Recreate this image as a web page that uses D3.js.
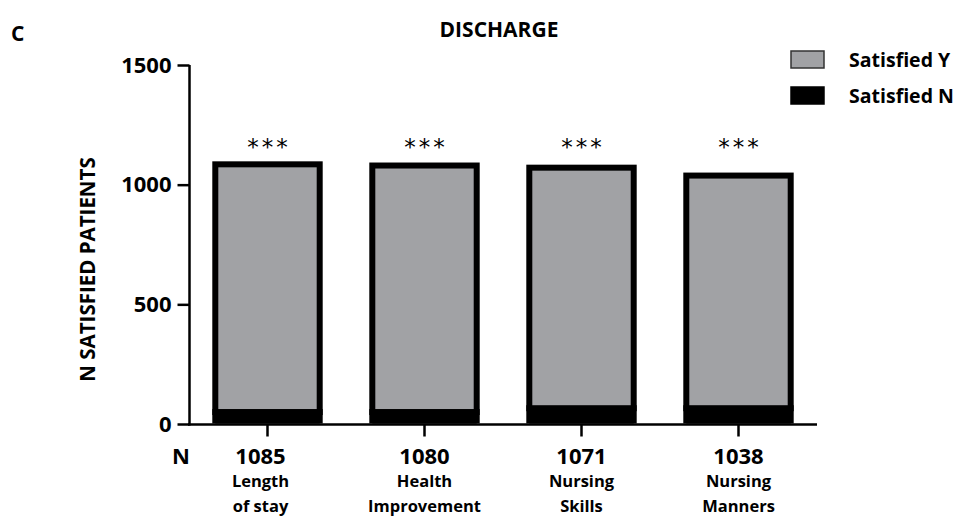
<!DOCTYPE html>
<html>
<head>
<meta charset="utf-8">
<script src="https://cdn.jsdelivr.net/npm/d3@7"></script>
<style>
  html, body { margin: 0; padding: 0; background: #fff; }
  svg { display: block; font-family: "Open Sans", Lato, sans-serif; }
</style>
</head>
<body>
<svg id="chart" width="958" height="518"></svg>
<script>
// Discharge satisfaction by item: stacked counts of satisfied / not satisfied patients
const categories = ["Length of stay", "Health Improvement", "Nursing Skills", "Nursing Manners"];
const categoryLines = [["Length", "of stay"], ["Health", "Improvement"], ["Nursing", "Skills"], ["Nursing", "Manners"]];
const totalN = [1085, 1080, 1071, 1038];
const satisfiedYes = [1035, 1030, 1005, 972];
const satisfiedNo = [50, 50, 66, 66];
const significance = ["***", "***", "***", "***"];
const yTicks = [0, 500, 1000, 1500];
const seriesKeys = ["No", "Yes"];
const legendLabels = ["Satisfied Y", "Satisfied N"];

const rows = categories.map((c, i) => ({ category: c, No: satisfiedNo[i], Yes: satisfiedYes[i], total: totalN[i] }));

const svg = d3.select("#chart");
const gray = "#a1a2a5";

const x = d3.scaleBand().domain(categories).range([189, 817]).paddingInner(0.335).paddingOuter(0.1675);
const y = d3.scaleLinear().domain([0, 1500]).range([424, 65]);

// clip bars so their outlines stop at the baseline
svg.append("defs").append("clipPath").attr("id", "plot")
  .append("rect").attr("x", 189).attr("y", 0).attr("width", 700).attr("height", y(0) - 0.5);

const stacked = d3.stack().keys(seriesKeys)(rows);
const fills = { No: "#000", Yes: gray };

svg.append("g").attr("clip-path", "url(#plot)")
  .selectAll("g").data(stacked).join("g")
  .attr("fill", d => fills[d.key])
  .selectAll("rect").data(d => d).join("rect")
  .attr("x", d => x(d.data.category))
  .attr("width", x.bandwidth())
  .attr("y", d => y(d[1]))
  .attr("height", d => y(d[0]) - y(d[1]))
  .attr("stroke", "#000")
  .attr("stroke-width", 6)
  .attr("stroke-linejoin", "miter");

// significance markers
svg.append("g").selectAll("text").data(rows).join("text")
  .attr("x", d => x(d.category) + x.bandwidth() / 2 + 1.5)
  .attr("y", y(1160) + 9)
  .attr("text-anchor", "middle")
  .attr("font-family", "DejaVu Sans, sans-serif")
  .attr("font-size", 23)
  .attr("letter-spacing", 3)
  .text((d, i) => significance[i]);

// y axis
const yAxis = d3.axisLeft(y).tickValues(yTicks).tickSize(12).tickSizeOuter(0).tickPadding(6).tickFormat(d3.format("d"));
const gy = svg.append("g").attr("transform", "translate(189.5,0)").call(yAxis);
gy.select(".domain").attr("stroke-width", 2.5).attr("d", `M0,${y(1500)}V${y(0) + 1.5}`);
gy.selectAll(".tick line").attr("stroke-width", 2.5);
gy.selectAll(".tick text").attr("font-size", 22).attr("font-weight", 700).attr("fill", "#000")
  .attr("font-family", "'Open Sans', sans-serif");

// x axis
const xAxis = d3.axisBottom(x).tickSize(12).tickSizeOuter(0).tickFormat("");
const gx = svg.append("g").attr("transform", `translate(0,${y(0) + 0.5})`).call(xAxis);
gx.select(".domain").attr("stroke-width", 2.5).attr("d", `M188,0H817`);
gx.selectAll(".tick line").attr("stroke-width", 2.5);

// N row and category names
svg.append("text").attr("x", 181).attr("y", 464).attr("text-anchor", "middle")
  .attr("font-size", 22).attr("font-weight", 700).text("N");
const lab = svg.append("g").selectAll("g").data(rows).join("g")
  .attr("transform", (d, i) => `translate(${x(d.category) + x.bandwidth() / 2 - (i === 0 ? 7 : 0)},0)`);
lab.append("text").attr("y", 464).attr("text-anchor", "middle")
  .attr("font-size", 22).attr("font-weight", 700).text(d => d.total);
lab.each(function (d, i) {
  d3.select(this).selectAll("text.cat").data(categoryLines[i]).join("text")
    .attr("class", "cat").attr("y", (t, j) => 487 + j * 25).attr("text-anchor", "middle")
    .attr("font-size", 16.5).attr("font-weight", 700).text(t => t);
});

// titles
svg.append("text").attr("x", 499).attr("y", 37).attr("text-anchor", "middle")
  .attr("font-size", 21).attr("font-weight", 700).text("DISCHARGE");
svg.append("text").attr("x", 11).attr("y", 41)
  .attr("font-size", 21).attr("font-weight", 700).text("C");
svg.append("text").attr("transform", `translate(95,${(y(0) + y(1500)) / 2 + 25}) rotate(-90)`)
  .attr("text-anchor", "middle").attr("font-size", 20.5).attr("font-weight", 700).text("N SATISFIED PATIENTS");

// legend
const legend = svg.append("g");
const legendFill = [gray, "#000"];
legendLabels.forEach((t, i) => {
  legend.append("rect").attr("x", 791).attr("y", 51 + i * 36).attr("width", 33).attr("height", 17)
    .attr("fill", legendFill[i]).attr("stroke", i === 0 ? "#333" : "#000").attr("stroke-width", 1.5);
  legend.append("text").attr("x", 849).attr("y", 67 + i * 36)
    .attr("font-size", 19.5).attr("font-weight", 700).text(t);
});
</script>
</body>
</html>
